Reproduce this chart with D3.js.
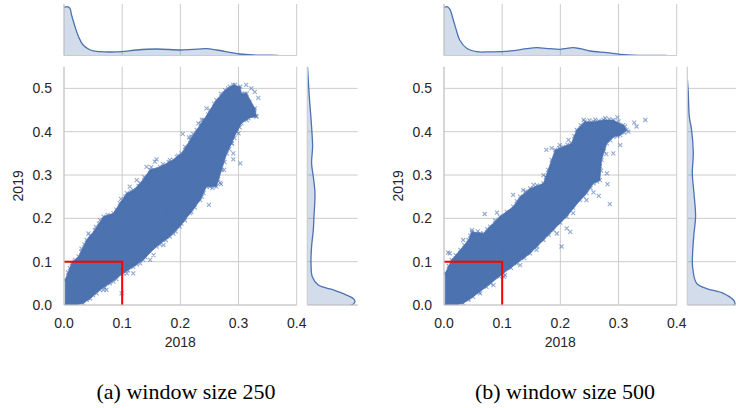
<!DOCTYPE html>
<html><head><meta charset="utf-8">
<script src="https://cdn.jsdelivr.net/npm/d3@7"></script>
<style>
html,body{margin:0;padding:0;background:#fff;}
svg{display:block;}
</style>
</head><body>
<svg id="chart" width="736" height="408"></svg>
<script>
// ---------------- DATA ----------------
const xTicks = [0.0, 0.1, 0.2, 0.3, 0.4];
const yTicks = [0.0, 0.1, 0.2, 0.3, 0.4, 0.5];
const xLabel = "2018";
const yLabel = "2019";
const captions = ["(a) window size 250", "(b) window size 500"];
const threshold = 0.1;

// dense cloud outline (2018, 2019) – window 250
const cloudA = [[0.002,0],[0.002,0.058],[0.013,0.096],[0.025,0.112],[0.039,0.150],[0.053,0.173],[0.068,0.204],[0.085,0.212],[0.096,0.235],[0.108,0.258],[0.119,0.265],[0.131,0.281],[0.148,0.312],[0.165,0.319],[0.188,0.335],[0.202,0.350],[0.217,0.381],[0.228,0.404],[0.240,0.427],[0.251,0.450],[0.262,0.473],[0.277,0.496],[0.291,0.508],[0.303,0.504],[0.305,0.488],[0.314,0.488],[0.328,0.454],[0.331,0.435],[0.317,0.431],[0.305,0.419],[0.297,0.400],[0.288,0.373],[0.280,0.350],[0.271,0.312],[0.262,0.273],[0.245,0.273],[0.234,0.242],[0.217,0.212],[0.199,0.181],[0.182,0.158],[0.159,0.135],[0.136,0.104],[0.119,0.088],[0.102,0.073],[0.079,0.050],[0.062,0.035],[0.045,0.015],[0.033,0.004],[0.022,0]];
// scattered points – window 250
const pointsA = [[0.159,0.336],[0.156,0.331],[0.204,0.395],[0.215,0.387],[0.311,0.488],[0.328,0.492],[0.313,0.508],[0.327,0.450],[0.303,0.327],[0.249,0.231],[0.268,0.282],[0.270,0.279],[0.291,0.336],[0.289,0.373],[0.119,0.073],[0.108,0.073],[0.099,0.027],[0.007,0.075],[0.148,0.104],[0.145,0.135],[0.073,0.035],[0.068,0.035],[0.042,0.165],[0.062,0.196],[0.082,0.204],[0.070,0.185],[0.113,0.273],[0.101,0.235],[0.125,0.288],[0.142,0.319],[0.182,0.335],[0.194,0.342],[0.219,0.388],[0.231,0.419],[0.237,0.427],[0.245,0.454],[0.285,0.504],[0.294,0.508],[0.319,0.469],[0.330,0.436],[0.314,0.427],[0.300,0.396],[0.291,0.350],[0.275,0.312],[0.251,0.273],[0.237,0.250],[0.219,0.215],[0.202,0.188],[0.188,0.165],[0.171,0.138],[0.154,0.115],[0.131,0.096],[0.085,0.054],[0.056,0.027],[0.039,0.012],[0.019,0.104],[0.030,0.123],[0.048,0.150],[0.334,0.478],[0.322,0.500],[0.258,0.300],[0.090,0.095],[0.112,0.120],[0.175,0.215],
  [0.010,0.085],[0.018,0.100],[0.030,0.130],[0.035,0.140],[0.045,0.160],[0.055,0.180],[0.060,0.188],[0.075,0.208],[0.090,0.220],[0.098,0.245],[0.105,0.250],[0.115,0.262],[0.128,0.275],[0.138,0.295],[0.150,0.318],[0.170,0.325],[0.180,0.330],[0.196,0.345],[0.208,0.365],[0.222,0.395],[0.235,0.418],[0.248,0.440],[0.258,0.465],[0.270,0.488],[0.282,0.500],
  [0.030,0.008],[0.050,0.022],[0.070,0.040],[0.090,0.060],[0.110,0.080],[0.125,0.094],[0.140,0.110],[0.165,0.140],[0.175,0.150],[0.192,0.170],[0.208,0.195],[0.225,0.225],[0.240,0.258],[0.255,0.270],[0.265,0.290],[0.276,0.330],[0.284,0.360],[0.293,0.385],[0.302,0.410],[0.320,0.440]];

// dense cloud outline – window 500
const cloudB = [[0.002,0],[0.002,0.073],[0.013,0.104],[0.028,0.127],[0.042,0.150],[0.048,0.169],[0.068,0.165],[0.079,0.181],[0.096,0.204],[0.119,0.227],[0.131,0.250],[0.148,0.269],[0.171,0.281],[0.179,0.312],[0.191,0.358],[0.205,0.365],[0.219,0.373],[0.228,0.404],[0.242,0.423],[0.257,0.423],[0.274,0.427],[0.291,0.427],[0.308,0.415],[0.314,0.404],[0.303,0.392],[0.291,0.388],[0.280,0.373],[0.271,0.335],[0.268,0.288],[0.257,0.281],[0.245,0.258],[0.234,0.242],[0.211,0.204],[0.188,0.173],[0.171,0.150],[0.148,0.119],[0.125,0.096],[0.102,0.073],[0.073,0.042],[0.050,0.019],[0.033,0.004],[0.022,0]];
// scattered points – window 500
const pointsB = [[0.346,0.427],[0.327,0.421],[0.331,0.412],[0.298,0.433],[0.303,0.369],[0.285,0.233],[0.202,0.135],[0.211,0.177],[0.217,0.169],[0.007,0.121],[0.010,0.119],[0.091,0.213],[0.070,0.210],[0.119,0.254],[0.176,0.358],[0.185,0.362],[0.234,0.404],[0.237,0.392],[0.280,0.304],[0.281,0.279],[0.266,0.252],[0.257,0.260],[0.291,0.350],[0.279,0.348],[0.245,0.242],[0.222,0.212],[0.194,0.165],[0.159,0.127],[0.131,0.092],[0.105,0.069],[0.103,0.065],[0.085,0.046],[0.062,0.027],[0.042,0.015],[0.033,0.150],[0.048,0.173],[0.062,0.165],[0.022,0.081],[0.013,0.088],[0.136,0.265],[0.154,0.277],[0.171,0.300],[0.199,0.369],[0.214,0.381],[0.240,0.427],[0.260,0.428],[0.277,0.431],[0.311,0.412],[0.317,0.400],[0.268,0.320],[0.180,0.230],[0.100,0.120],
  [0.008,0.090],[0.020,0.115],[0.035,0.138],[0.045,0.160],[0.058,0.170],[0.074,0.175],[0.088,0.195],[0.108,0.215],[0.125,0.240],[0.140,0.262],[0.160,0.276],[0.175,0.295],[0.185,0.335],[0.198,0.362],[0.212,0.370],[0.224,0.390],[0.235,0.415],[0.250,0.426],[0.266,0.425],[0.284,0.429],[0.300,0.424],
  [0.030,0.008],[0.042,0.012],[0.060,0.030],[0.080,0.050],[0.095,0.066],[0.115,0.086],[0.138,0.108],[0.160,0.135],[0.180,0.162],[0.200,0.190],[0.222,0.224],[0.240,0.250],[0.252,0.270],[0.263,0.285],[0.270,0.310],[0.275,0.355],[0.286,0.380],[0.298,0.390],[0.310,0.398]];

// marginal densities (relative)
const kdeTopA = [[-0.005,0.95],[0.000,0.985],[0.005,1.0],[0.010,0.97],[0.013,0.83],[0.019,0.59],[0.025,0.385],[0.033,0.215],[0.045,0.113],[0.062,0.078],[0.080,0.072],[0.099,0.078],[0.125,0.113],[0.159,0.133],[0.200,0.113],[0.222,0.127],[0.245,0.139],[0.262,0.113],[0.285,0.066],[0.302,0.031],[0.325,0.010],[0.345,0.006],[0.368,0.004]];
const kdeTopB = [[-0.005,0.95],[0.000,0.985],[0.005,1.0],[0.010,0.95],[0.016,0.727],[0.022,0.488],[0.027,0.318],[0.039,0.148],[0.056,0.078],[0.080,0.075],[0.099,0.078],[0.119,0.098],[0.142,0.139],[0.159,0.160],[0.182,0.139],[0.199,0.127],[0.211,0.148],[0.222,0.160],[0.234,0.139],[0.251,0.092],[0.280,0.057],[0.303,0.025],[0.325,0.006],[0.383,0.004]];
const kdeRightA = [[-0.01,0.6],[0.000,0.93],[0.002,0.964],[0.008,1.0],[0.015,0.964],[0.023,0.824],[0.035,0.545],[0.046,0.23],[0.065,0.105],[0.096,0.078],[0.135,0.09],[0.173,0.126],[0.204,0.14],[0.258,0.161],[0.296,0.126],[0.327,0.09],[0.365,0.111],[0.411,0.09],[0.481,0.042],[0.519,0.021],[0.55,0.005]];
const kdeRightB = [[-0.01,0.6],[0.000,0.98],[0.004,1.0],[0.012,0.964],[0.027,0.755],[0.038,0.405],[0.050,0.195],[0.088,0.111],[0.119,0.111],[0.165,0.14],[0.204,0.174],[0.258,0.14],[0.304,0.105],[0.350,0.126],[0.404,0.09],[0.435,0.042],[0.489,0.021],[0.52,0.003]];

// ---------------- DRAW ----------------
const svg = d3.select("#chart");
const BLUE = "#4c72b0", GRID = "#cccccc", TXT = "#262626";
const FONT = "'Liberation Sans', Arial, sans-serif";

const panels = [
  {x0:64, x1:296.7, rx0:307.3, rx1:357.7, cloud:cloudA, pts:pointsA, top:kdeTopA, right:kdeRightA, cap:captions[0], capX:186},
  {x0:444, x1:676.7, rx0:687.3, rx1:737.7, cloud:cloudB, pts:pointsB, top:kdeTopB, right:kdeRightB, cap:captions[1], capX:565}
];
const mainTop = 66.7, mainBottom = 305, topT = 4, topB = 55.5;

panels.forEach((p, i) => {
  const g = svg.append("g");
  const x = d3.scaleLinear().domain([0, 0.4]).range([p.x0, p.x1]);
  const y = d3.scaleLinear().domain([0, 0.55]).range([mainBottom, mainTop]);
  const dTop = d3.scaleLinear().domain([0, 1.055]).range([topB, topT]);
  const dRight = d3.scaleLinear().domain([0, 1.057]).range([p.rx0, p.rx1]);

  const defs = svg.append("defs");
  defs.append("clipPath").attr("id","cm"+i).append("rect")
    .attr("x",p.x0).attr("y",mainTop).attr("width",p.x1-p.x0).attr("height",mainBottom-mainTop);
  defs.append("clipPath").attr("id","ct"+i).append("rect")
    .attr("x",p.x0).attr("y",topT).attr("width",p.x1-p.x0).attr("height",topB-topT);
  defs.append("clipPath").attr("id","cr"+i).append("rect")
    .attr("x",p.rx0).attr("y",mainTop).attr("width",p.rx1-p.rx0).attr("height",mainBottom-mainTop);

  // main grid
  g.append("g").selectAll("line").data(xTicks).join("line")
    .attr("x1",d=>x(d)).attr("x2",d=>x(d)).attr("y1",mainTop).attr("y2",mainBottom)
    .attr("stroke",GRID).attr("stroke-width",1);
  g.append("g").selectAll("line").data(yTicks).join("line")
    .attr("x1",p.x0).attr("x2",p.x1).attr("y1",d=>y(d)).attr("y2",d=>y(d))
    .attr("stroke",GRID).attr("stroke-width",1);

  // cloud
  const mg = g.append("g").attr("clip-path",`url(#cm${i})`);
  mg.append("path").datum(p.cloud)
    .attr("d", d3.line().x(d=>x(d[0])).y(d=>y(d[1])).curve(d3.curveLinearClosed))
    .attr("fill",BLUE).attr("stroke",BLUE).attr("stroke-width",1).attr("stroke-opacity",0.6);
  const mk = 2;
  const allPts = p.pts.concat(p.cloud);
  mg.append("g").selectAll("path").data(allPts).join("path")
    .attr("d", d => {
      const cx = x(d[0]), cy = y(d[1]);
      return `M${cx-mk},${cy-mk}L${cx+mk},${cy+mk}M${cx-mk},${cy+mk}L${cx+mk},${cy-mk}`;
    })
    .attr("stroke",BLUE).attr("stroke-width",1.1).attr("stroke-opacity",0.6).attr("fill","none");

  // red threshold lines
  g.append("path")
    .attr("d", `M${x(0)},${y(threshold)}L${x(threshold)},${y(threshold)}L${x(threshold)},${y(0)}`)
    .attr("fill","none").attr("stroke","#ff0000").attr("stroke-width",2);

  // spines
  g.append("line").attr("x1",p.x0).attr("x2",p.x0).attr("y1",mainTop).attr("y2",mainBottom).attr("stroke",GRID).attr("stroke-width",1.2);
  g.append("line").attr("x1",p.x0).attr("x2",p.x1).attr("y1",mainBottom).attr("y2",mainBottom).attr("stroke",GRID).attr("stroke-width",1.2);

  // tick labels
  g.append("g").selectAll("text").data(xTicks).join("text")
    .attr("x",d=>x(d)).attr("y",328).attr("text-anchor","middle")
    .attr("font-family",FONT).attr("font-size",14).attr("fill",TXT)
    .text(d=>d3.format(".1f")(d));
  g.append("g").selectAll("text").data(yTicks).join("text")
    .attr("x",p.x0-12).attr("y",d=>y(d)+5).attr("text-anchor","end")
    .attr("font-family",FONT).attr("font-size",14).attr("fill",TXT)
    .text(d=>d3.format(".1f")(d));
  g.append("text").attr("x",(p.x0+p.x1)/2).attr("y",347).attr("text-anchor","middle")
    .attr("font-family",FONT).attr("font-size",14).attr("fill",TXT).text(xLabel);
  g.append("text").attr("transform",`translate(${p.x0-41},${(mainTop+mainBottom)/2}) rotate(-90)`)
    .attr("text-anchor","middle")
    .attr("font-family",FONT).attr("font-size",14).attr("fill",TXT).text(yLabel);

  // top marginal
  g.append("g").selectAll("line").data(xTicks).join("line")
    .attr("x1",d=>x(d)).attr("x2",d=>x(d)).attr("y1",topT).attr("y2",topB)
    .attr("stroke",GRID).attr("stroke-width",1);
  const tg = g.append("g").attr("clip-path",`url(#ct${i})`);
  tg.append("path").datum(p.top)
    .attr("d", d3.area().x(d=>x(d[0])).y0(topB).y1(d=>dTop(d[1])).curve(d3.curveCatmullRom))
    .attr("fill",BLUE).attr("fill-opacity",0.25);
  tg.append("path").datum(p.top)
    .attr("d", d3.line().x(d=>x(d[0])).y(d=>dTop(d[1])).curve(d3.curveCatmullRom))
    .attr("fill","none").attr("stroke",BLUE).attr("stroke-width",1.3);
  g.append("line").attr("x1",p.x0).attr("x2",p.x0).attr("y1",topT).attr("y2",topB).attr("stroke",GRID).attr("stroke-width",1.2);
  g.append("line").attr("x1",p.x0).attr("x2",p.x1).attr("y1",topB).attr("y2",topB).attr("stroke",GRID).attr("stroke-width",1.2);

  // right marginal
  g.append("g").selectAll("line").data(yTicks).join("line")
    .attr("x1",p.rx0).attr("x2",p.rx1).attr("y1",d=>y(d)).attr("y2",d=>y(d))
    .attr("stroke",GRID).attr("stroke-width",1);
  const rg = g.append("g").attr("clip-path",`url(#cr${i})`);
  rg.append("path").datum(p.right)
    .attr("d", d3.area().y(d=>y(d[0])).x0(p.rx0).x1(d=>dRight(d[1])).curve(d3.curveCatmullRom))
    .attr("fill",BLUE).attr("fill-opacity",0.25);
  rg.append("path").datum(p.right)
    .attr("d", d3.line().y(d=>y(d[0])).x(d=>dRight(d[1])).curve(d3.curveCatmullRom))
    .attr("fill","none").attr("stroke",BLUE).attr("stroke-width",1.3);
  g.append("line").attr("x1",p.rx0).attr("x2",p.rx0).attr("y1",mainTop).attr("y2",mainBottom).attr("stroke",GRID).attr("stroke-width",1.2);
  g.append("line").attr("x1",p.rx0).attr("x2",p.rx1).attr("y1",mainBottom).attr("y2",mainBottom).attr("stroke",GRID).attr("stroke-width",1.2);

  // caption
  g.append("text").attr("x",p.capX).attr("y",399).attr("text-anchor","middle")
    .attr("font-family","'Liberation Serif', 'Times New Roman', serif").attr("font-size",22)
    .attr("fill","#000").text(p.cap);
});
</script>
</body></html>
